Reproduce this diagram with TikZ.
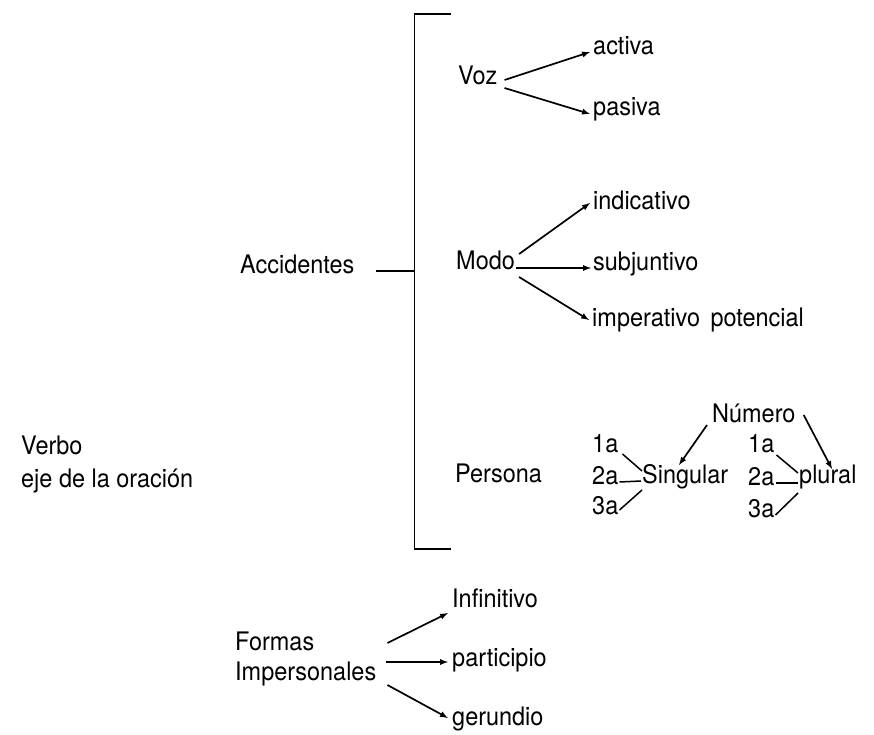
\documentclass[tikz,border=0pt]{standalone}
\usepackage{fontspec}
\setmainfont{TeX Gyre Heros}[FakeStretch=0.92]
\newcommand{\schrift}{\fontsize{25.5}{33}\selectfont}
\tikzset{
	lbl/.style={inner sep=0pt, anchor=mid west, font=\schrift},
	pfeil/.style={line width=1.7pt, ->, >=latex},
	strich/.style={line width=1.9pt}
}
\begin{document}
\begin{tikzpicture}[x=1pt, y=-1pt]
	\useasboundingbox (0,0) rectangle (874,735);
	\node[lbl, align=left, anchor=west] (verbo) at (21,464) {Verbo\\eje de la oración};
	\node[lbl] (accid) at (240,271) {Accidentes};
	\coordinate (kl-oben) at (451,14);
	\coordinate (kl-links) at (414.5,14);
	\coordinate (kl-unten) at (451,549);
	\draw[strich] (kl-oben) -- (kl-links) -- (kl-links |- kl-unten) -- (kl-unten);
	\draw[strich] ([xshift=21pt]accid.mid east) -- (accid.mid east -| kl-links);

	\node[lbl] (voz) at (458,82) {Voz};
	\node[lbl] (activa) at (593,52) {activa};
	\node[lbl] (pasiva) at (593,113) {pasiva};
	\draw[pfeil] ([shift={(7,-2)}]voz.mid east) -- ([shift={(-3,0)}]activa.mid west);
	\draw[pfeil] ([shift={(7,6)}]voz.mid east) -- ([shift={(-3,1)}]pasiva.mid west);

	\node[lbl] (modo) at (456,267) {Modo};
	\node[lbl] (indic) at (593,207) {indicativo};
	\node[lbl] (subj) at (593,268) {subjuntivo};
	\node[lbl] (imper) at (592,324) {imperativo\hspace{4pt} potencial};
	\draw[pfeil] ([shift={(4,-13)}]modo.mid east) -- ([shift={(-3,-4)}]indic.mid west);
	\draw[pfeil] ([shift={(1,1)}]modo.mid east) -- ([shift={(-2,0)}]subj.mid west);
	\draw[pfeil] ([shift={(4,10)}]modo.mid east) -- ([shift={(-3,-4)}]imper.mid west);

	\node[lbl] (persona) at (455,480) {Persona};
	\node[lbl] (numero) at (712,420) {Número};
	\node[lbl] (sing) at (642,481) {Singular};
	\node[lbl] (s1) at (592,450) {1a};
	\node[lbl] (s2) at (592,482) {2a};
	\node[lbl] (s3) at (592,512) {3a};
	\node[lbl] (plural) at (799,481) {plural};
	\node[lbl] (p1) at (748,450) {1a};
	\node[lbl] (p2) at (748,483) {2a};
	\node[lbl] (p3) at (748,515) {3a};
	\draw[pfeil] ([shift={(-5,5)}]numero.mid west) -- ([shift={(37,-16)}]sing.mid west);
	\draw[pfeil] ([shift={(8,-5)}]numero.mid east) -- ([shift={(33,-12)}]plural.mid west);
	\draw[line width=1.5pt] ([shift={(4,4)}]s1.mid east) -- ([shift={(0,-10)}]sing.mid west);
	\draw[line width=1.5pt] ([shift={(1,0)}]s2.mid east) -- ([shift={(-1,0)}]sing.mid west);
	\draw[line width=1.5pt] ([shift={(1,-2)}]s3.mid east) -- ([shift={(0,9)}]sing.mid west);
	\draw[line width=1.5pt] ([shift={(2,5)}]p1.mid east) -- ([shift={(-1,-8)}]plural.mid west);
	\draw[line width=1.5pt] ([shift={(1,0)}]p2.mid east) -- ([shift={(-1,2)}]plural.mid west);
	\draw[line width=1.5pt] ([shift={(1,0)}]p3.mid east) -- ([shift={(-1,12)}]plural.mid west);

	\node[lbl] (formas) at (235,648) {Formas};
	\node[lbl] (impers) at (235,678) {Impersonales};
	\node[lbl] (infin) at (452,605) {Infinitivo};
	\node[lbl] (partic) at (452,664) {participio};
	\node[lbl] (gerund) at (452,723) {gerundio};
	\draw[pfeil] ([shift={(11,-35)}]impers.mid east) -- ([shift={(-4,8)}]infin.mid west);
	\draw[pfeil] ([shift={(10,-16)}]impers.mid east) -- ([shift={(-4,-2)}]partic.mid west);
	\draw[pfeil] ([shift={(11,7)}]impers.mid east) -- ([shift={(-4,-5)}]gerund.mid west);
\end{tikzpicture}
\end{document}
